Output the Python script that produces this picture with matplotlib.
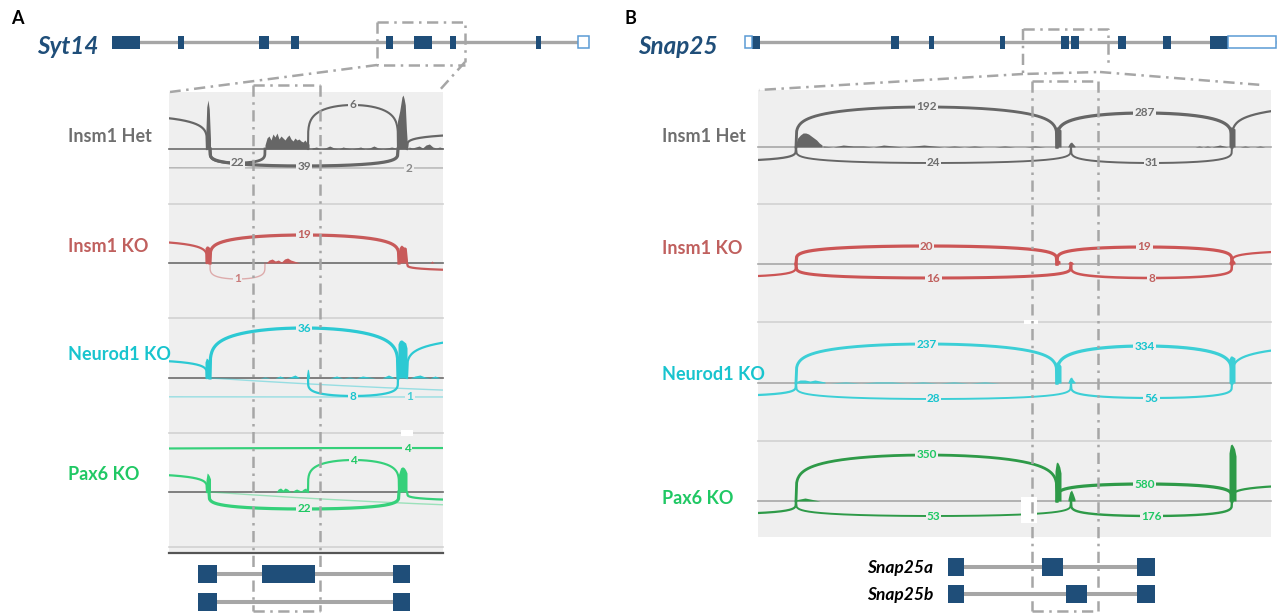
import numpy as np
import matplotlib.pyplot as plt
from matplotlib.patches import Rectangle

plt.rcParams['font.family'] = ['Lato', 'DejaVu Sans']

W, H = 1279, 613
BG = '#EFEFEF'
GENE_BLUE = '#1F4E79'
UTR_EDGE = '#5B9BD5'
LINE_GRAY = '#A6A6A6'

samples = ['Insm1 Het', 'Insm1 KO', 'Neurod1 KO', 'Pax6 KO']

# gene models, x extents in figure pixels
syt14_span = (112, 578)
syt14_exons = [(112, 140), (178, 184), (259, 269), (291, 299), (386, 393),
               (414, 432), (450, 456), (536, 541)]
syt14_utr = [(578, 589)]
snap25_span = (745, 1276)
snap25_exons = [(752, 760), (891, 899), (929, 934), (1000, 1005), (1061, 1069),
                (1071, 1079), (1118, 1126), (1163, 1171), (1210, 1228)]
snap25_utr = [(745, 752), (1228, 1276)]

# isoforms below each sashimi panel
syt14_isoforms = [[(198, 217), (262, 315), (393, 410)],
                  [(198, 217), (393, 410)]]
snap25_isoforms = [[(948, 964), (1042, 1063), (1137, 1155)],
                   [(948, 964), (1066, 1087), (1137, 1155)]]
snap25_isoform_names = ['Snap25a', 'Snap25b']

# junctions: (start, end, arc height (+ above / - below), read count)
# count None = junction whose label sits outside the window
syt14_junctions = [
    [(210, 265, -14, 22), (210, 398, -17, 39), (308, 398, 44, 6),
     (-2000, 2818, -19, 2), (40, 207, 33, None), (407, 707, 16, None)],
    [(210, 399, 28, 19), (210, 265, -16, 1), (40, 207, 22, None),
     (407, 707, -8, None)],
    [(210, 398, 50, 36), (308, 398, -18, 8), (-2000, 2820, -19, 1),
     (210, 1300, -18, 1), (40, 207, 18, None), (407, 707, 42, None)],
    [(308, 399, 32, 4), (209, 399, -17, 22), (-2000, 2814, 44, 4),
     (210, 1300, -19, 1), (40, 207, 18, None), (407, 707, -9, None)],
]
snap25_junctions = [
    [(796, 1057, 40, 192), (1057, 1232, 34, 287), (796, 1071, -16, 24),
     (1071, 1232, -16, 31), (620, 796, -14, None), (1232, 1532, 42, None)],
    [(796, 1057, 18, 20), (1057, 1232, 17, 19), (796, 1071, -14, 16),
     (1071, 1232, -14, 8), (620, 796, -13, None), (1232, 1532, 14, None)],
    [(796, 1057, 39, 237), (1057, 1232, 37, 334), (796, 1071, -16, 28),
     (1071, 1232, -15, 56), (620, 796, -13, None), (1232, 1532, 38, None)],
    [(796, 1057, 46, 350), (1057, 1232, 17, 580), (796, 1071, -15, 53),
     (1071, 1232, -15, 176), (620, 796, -13, None), (1232, 1532, 17, None)],
]

# read coverage blocks: (start, end, heights)
syt14_coverage = [
    [(205.5, 210.5, [6, 42, 49, 40, 10]),
     (265, 309, [4, 11, 13, 9, 15, 12, 16, 10, 13, 11, 9, 12, 14, 10, 8, 11,
                 9, 10, 8, 7, 9, 6, 5]),
     (312, 396, [1, 2, 0, 1, 3, 1, 0, 2, 1, 0, 1, 2, 0, 1, 3, 1, 0, 1, 2, 1]),
     (397.5, 407.5, [28, 33, 38, 45, 52, 54, 50, 44, 20, 3]),
     (409, 443, [2, 1, 2, 3, 1, 4, 5, 2, 1, 2, 1])],
    [(205, 210.5, [15, 17, 17, 16, 14]),
     (266, 300, [0, 3, 4, 2, 3, 1, 4, 5, 3, 2, 1, 0]),
     (399, 407.5, [15, 17, 18, 17, 16, 16, 15, 3]),
     (430, 434, [0, 2, 0])],
    [(205, 210.5, [16, 20, 19, 17, 15]),
     (260, 300, [0, 1, 0, 0, 2, 0, 1, 3, 0]),
     (306.5, 309.5, [3, 9, 8, 2]),
     (330, 395, [0, 2, 0, 1, 0, 2, 1, 0, 0, 3, 0]),
     (398, 407, [34, 37, 38, 38, 37, 36, 35, 30]),
     (410, 440, [0, 2, 3, 1, 0, 2, 0])],
    [(206, 210.5, [12, 19, 18, 16, 13]),
     (276, 308, [0, 3, 4, 2, 4, 3, 1, 0, 2, 3, 2, 1, 3, 4, 0]),
     (398, 407, [16, 20, 24, 25, 25, 24, 22, 19])],
]
snap25_coverage = [
    [(795, 822, [1, 9, 12, 14, 14, 13, 11, 9, 7, 4, 2]),
     (823, 1045, [1, 0, 2, 1, 1, 0, 2, 1, 0, 1, 2, 1, 0, 1, 0, 1, 0, 0, 1, 0, 0, 1, 0]),
     (1055, 1061, [17, 20, 20, 19, 18, 17]),
     (1068, 1075, [1, 4, 5, 3, 1]),
     (1195, 1228, [0, 1, 0, 1, 0, 1, 2, 1, 0]),
     (1229, 1235, [18, 20, 20, 19, 18]),
     (1240, 1265, [0, 1, 0, 0, 1, 0])],
    [(1055, 1060, [2, 4, 4, 3]),
     (1068, 1074, [1, 3, 2, 0]),
     (1229, 1235, [2, 4, 5, 4, 2])],
    [(795, 825, [1, 3, 3, 2, 3, 2, 1]),
     (830, 1000, [0, 1, 0, 1, 1, 0, 1, 0, 1, 0, 1, 0]),
     (1055, 1061, [18, 21, 21, 20, 19, 17]),
     (1068, 1075, [1, 5, 6, 3, 1]),
     (1229, 1235, [24, 27, 27, 26, 25])],
    [(795, 820, [1, 2, 3, 2, 1, 0]),
     (1055, 1061, [30, 38, 39, 37, 34, 28]),
     (1068, 1075, [2, 9, 11, 7, 2]),
     (1229, 1236, [48, 56, 57, 55, 52, 45])],
]

label_colors = ['#6F6F6F', '#C0605E', '#18C4CE', '#20C864']
syt14_arc_colors = ['#666666', '#C85A5A', '#2CC9D3', '#35D07A']
snap25_arc_colors = ['#666666', '#CC5555', '#3CCFD6', '#2E9A48']


fig = plt.figure(figsize=(W / 100, H / 100), dpi=100)
ax = fig.add_axes([0, 0, 1, 1])
ax.set_xlim(0, W)
ax.set_ylim(H, 0)
ax.axis('off')


def dashdot(xs, ys):
    ax.plot(xs, ys, color=LINE_GRAY, lw=1.8, linestyle=(0, (4.5, 2.2, 1, 2.2)),
            solid_capstyle='butt', zorder=8)


def gene_model(span, exons, utrs, y):
    ax.plot(span, [y, y], color=LINE_GRAY, lw=2.4, zorder=2, solid_capstyle='butt')
    for x0, x1 in exons:
        ax.add_patch(Rectangle((x0, y - 6.5), x1 - x0, 13, fc=GENE_BLUE, ec='none', zorder=3))
    for x0, x1 in utrs:
        ax.add_patch(Rectangle((x0, y - 6), x1 - x0, 12, fc='white', ec=UTR_EDGE, lw=1.1, zorder=3))


def isoform(exons, y):
    ax.plot([exons[0][1], exons[-1][0]], [y, y], color=LINE_GRAY, lw=2.9, zorder=2)
    for x0, x1 in exons:
        ax.add_patch(Rectangle((x0, y - 9), x1 - x0, 18, fc=GENE_BLUE, ec='none', zorder=3))


def arc(x0, x1, base, height, count, color, txt_color, cmax, clip, xr):
    t = np.linspace(0, 1, 400)
    p = 0.2 if abs(x1 - x0) < 600 else 1.0
    s = np.clip(1 - (2 * t - 1) ** 2, 0, 1) ** p
    xs = x0 + (x1 - x0) * t
    ys = base - height * s
    faint = count is not None and count <= 2
    if count is None:
        lw = 1.6
    elif faint:
        lw = 1.0
    else:
        lw = 1.0 + 1.3 * np.sqrt(count / cmax)
    ln, = ax.plot(xs, ys, color=color, lw=lw, alpha=0.45 if faint else 1.0, zorder=4)
    ln.set_clip_path(clip)
    if count is not None:
        xm = (x0 + x1) / 2
        if xr[0] + 5 < xm < xr[1] - 5:
            ax.text(xm, base - height, str(count), ha='center', va='center',
                    fontsize=8.5, fontweight='bold', color=txt_color,
                    alpha=0.8 if faint else 1.0, zorder=6,
                    bbox=dict(boxstyle='square,pad=0.1', fc=BG, ec='none'))


def sashimi(xr, yr, bases, dividers, junctions, coverage, arc_colors, base_color, label_x, label_ys):
    bg = Rectangle((xr[0], yr[0]), xr[1] - xr[0], yr[1] - yr[0], fc=BG, ec='none', zorder=1)
    ax.add_patch(bg)
    for y in dividers:
        ax.plot(xr, [y, y], color='#D2D2D2', lw=1.2, zorder=2)
    for i, base in enumerate(bases):
        ax.plot(xr, [base, base], color=base_color, lw=1.2, zorder=2)
        for x0, x1, h in coverage[i]:
            xs = np.linspace(x0, x1, len(h))
            poly = ax.fill_between(xs, base, base - np.array(h), color=arc_colors[i],
                                   lw=0, zorder=3)
            poly.set_clip_path(bg)
        counts = [j[3] for j in junctions[i] if j[3] is not None]
        cmax = max(counts)
        for x0, x1, h, c in junctions[i]:
            arc(x0, x1, base, h, c, arc_colors[i], label_colors[i], cmax, bg, xr)
        ax.text(label_x, label_ys[i], samples[i], ha='left', va='center',
                fontsize=13, fontweight='bold', color=label_colors[i], zorder=6)


# panel A: Syt14
ax.text(11, 18, 'A', fontsize=13, fontweight='bold', ha='left', va='center')
ax.text(37, 46, 'Syt14', fontsize=17.5, fontweight='bold', style='italic',
        color=GENE_BLUE, ha='left', va='center')
gene_model(syt14_span, syt14_exons, syt14_utr, 42)
sashimi((169, 443), (92, 553), [149, 263, 378, 492], [204, 318, 433, 547],
        syt14_junctions, syt14_coverage, syt14_arc_colors, '#6B6B6B',
        68, [137, 246, 354, 475])
ax.plot([169, 443], [553, 553], color='#555555', lw=1.6, zorder=2)
ax.add_patch(Rectangle((401, 430), 12, 6, fc='white', ec='none', zorder=5))
for k, exons in enumerate(syt14_isoforms):
    isoform(exons, 574 + 28 * k)

dashdot([377, 465, 465], [22, 22, 62])
dashdot([377, 377, 465], [22, 65, 65])
dashdot([377, 170], [65, 92])
dashdot([465, 438], [62, 92])
dashdot([253, 320], [85, 85])
dashdot([253, 253], [85, 611])
dashdot([320, 320], [85, 611])
dashdot([253, 320], [611, 611])

# panel B: Snap25
ax.text(624, 18, 'B', fontsize=13, fontweight='bold', ha='left', va='center')
ax.text(638, 46, 'Snap25', fontsize=17.5, fontweight='bold', style='italic',
        color=GENE_BLUE, ha='left', va='center')
gene_model(snap25_span, snap25_exons, snap25_utr, 42)
sashimi((758, 1271), (90, 537), [147, 264, 383, 501], [204, 322, 441],
        snap25_junctions, snap25_coverage, snap25_arc_colors, '#A8A8A8',
        662, [136, 249, 374, 498])
for x, y, w, h in [(1024, 320, 14, 4), (1021, 497, 16, 26)]:
    ax.add_patch(Rectangle((x, y), w, h, fc='white', ec='none', zorder=5))
for k, exons in enumerate(snap25_isoforms):
    y = 567 + 27 * k
    isoform(exons, y)
    ax.text(933, y + 1, snap25_isoform_names[k], ha='right', va='center',
            fontsize=12.5, fontweight='bold', style='italic', color='black')

dashdot([1023, 1108, 1108], [29, 29, 66])
dashdot([1023, 1023, 1100], [29, 74, 72])
dashdot([1023, 759], [74, 90])
dashdot([1100, 1262], [72, 85])
dashdot([1032, 1098], [81, 81])
dashdot([1032, 1032], [81, 611])
dashdot([1098, 1098], [81, 611])
dashdot([1032, 1098], [611, 611])

fig.savefig('out.png', dpi=100)
